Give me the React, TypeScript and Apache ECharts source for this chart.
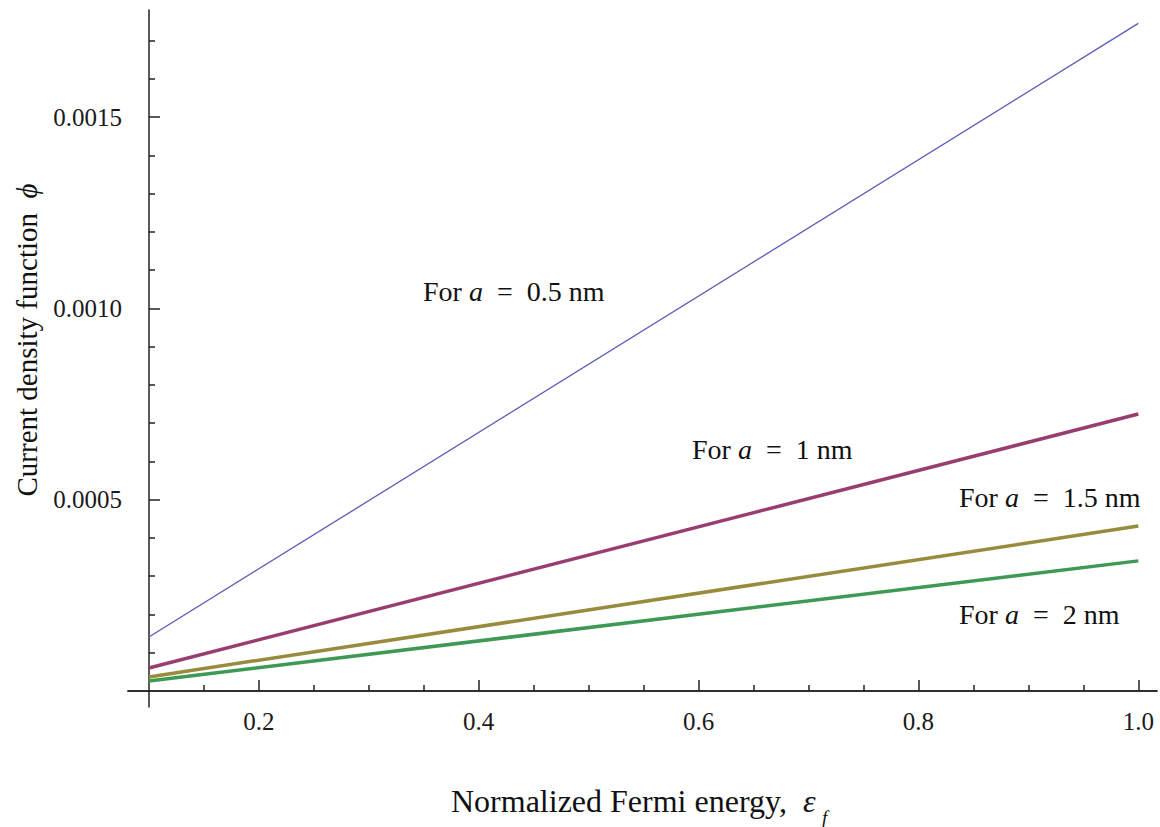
import React, { useEffect, useRef } from "react";
import * as echarts from "echarts";

const EPS = [0.1, 1.0];
const PHI_05 = [0.000141, 0.001745];
const PHI_10 = [0.0000601, 0.000724];
const PHI_15 = [0.0000366, 0.000431];
const PHI_20 = [0.0000261, 0.00034];

const X_TICKS = [0.2, 0.4, 0.6, 0.8, 1.0];
const X_MINOR = [0.15, 0.25, 0.3, 0.35, 0.45, 0.5, 0.55, 0.65, 0.7, 0.75, 0.85, 0.9, 0.95];
const Y_TICKS = [0.0005, 0.001, 0.0015];
const Y_MINOR = [0.0001, 0.0002, 0.0003, 0.0004, 0.0006, 0.0007, 0.0008, 0.0009, 0.0011, 0.0012, 0.0013, 0.0014, 0.0016, 0.0017];

const LABELS = ["0.5", "1", "1.5", "2"];

const XMIN = 0.081;
const XMAX = 1.017;
const YMIN = -0.000042;
const YMAX = 0.00178;

const FONT = "'Liberation Serif', 'Times New Roman', serif";
const AX = "#222";

function pairs(xs: number[], ys: number[]) {
  return xs.map((x, i) => [x, ys[i]]);
}

export default function App() {
  const ref = useRef<HTMLDivElement>(null);
  useEffect(() => {
    if (!ref.current) return;
    const chart = echarts.init(ref.current, undefined, { renderer: "svg" });
    const lineStyle = { color: AX, width: 1.5 };
    const annot = (txt: string, x: number, y: number) => ({
      type: "text",
      x,
      y,
      style: {
        text: `For {i|a}\u2002=\u2002${txt} nm`,
        fontFamily: FONT,
        fontSize: 28,
        fill: "#111",
        textAlign: "left",
        textVerticalAlign: "middle",
        rich: { i: { fontFamily: FONT, fontSize: 28, fontStyle: "italic", fill: "#111" } },
      },
    });
    chart.setOption({
      animation: false,
      backgroundColor: "#fff",
      grid: { left: 128, right: 3, top: 10, bottom: 120 },
      xAxis: [
        {
          type: "value",
          min: XMIN,
          max: XMAX,
          position: "bottom",
          axisLine: { show: true, onZero: true, onZeroAxisIndex: 0, lineStyle },
          axisTick: { show: true, inside: true, length: 11, customValues: X_TICKS, lineStyle },
          axisLabel: {
            customValues: X_TICKS,
            formatter: (v: number) => v.toFixed(1),
            fontFamily: FONT,
            fontSize: 25,
            color: "#1a1a1a",
            margin: 2,
          },
          splitLine: { show: false },
        },
        {
          type: "value",
          min: XMIN,
          max: XMAX,
          position: "bottom",
          axisLine: { show: true, onZero: true, onZeroAxisIndex: 0, lineStyle },
          axisTick: { show: true, inside: true, length: 6, customValues: X_MINOR, lineStyle },
          axisLabel: { show: false },
          splitLine: { show: false },
        },
      ],
      yAxis: [
        {
          type: "value",
          min: YMIN,
          max: YMAX,
          position: "left",
          offset: -21,
          axisLine: { show: true, onZero: false, lineStyle },
          axisTick: { show: true, inside: true, length: 11, customValues: Y_TICKS, lineStyle },
          axisLabel: {
            customValues: Y_TICKS,
            formatter: (v: number) => v.toFixed(4),
            fontFamily: FONT,
            fontSize: 25,
            color: "#1a1a1a",
            margin: 27,
          },
          splitLine: { show: false },
        },
        {
          type: "value",
          min: YMIN,
          max: YMAX,
          position: "left",
          offset: -21,
          axisLine: { show: false, onZero: false },
          axisTick: { show: true, inside: true, length: 6, customValues: Y_MINOR, lineStyle },
          axisLabel: { show: false },
          splitLine: { show: false },
        },
      ],
      series: [
        { name: `a = ${LABELS[0]} nm`, type: "line", data: pairs(EPS, PHI_05), showSymbol: false, lineStyle: { color: "#5b5bb8", width: 1.3 }, itemStyle: { color: "#5b5bb8" } },
        { name: `a = ${LABELS[1]} nm`, type: "line", data: pairs(EPS, PHI_10), showSymbol: false, lineStyle: { color: "#993d71", width: 3.5 }, itemStyle: { color: "#993d71" } },
        { name: `a = ${LABELS[2]} nm`, type: "line", data: pairs(EPS, PHI_15), showSymbol: false, lineStyle: { color: "#998b3d", width: 3.5 }, itemStyle: { color: "#998b3d" } },
        { name: `a = ${LABELS[3]} nm`, type: "line", data: pairs(EPS, PHI_20), showSymbol: false, lineStyle: { color: "#3d9954", width: 3.5 }, itemStyle: { color: "#3d9954" } },
      ],
      graphic: [
        annot(LABELS[0], 423, 291),
        annot(LABELS[1], 692, 449),
        annot(LABELS[2], 959, 497),
        annot(LABELS[3], 959, 614),
        {
          type: "text",
          x: 27,
          y: 340,
          rotation: Math.PI / 2,
          style: {
            text: "Current density function  {i|ϕ}",
            fontFamily: FONT,
            fontSize: 29,
            fill: "#111",
            textAlign: "center",
            textVerticalAlign: "middle",
            rich: { i: { fontFamily: FONT, fontSize: 29, fontStyle: "italic", fill: "#111" } },
          },
        },
        {
          type: "text",
          x: 451,
          y: 801,
          style: {
            text: "Normalized Fermi energy,  {i|ε}",
            fontFamily: FONT,
            fontSize: 32,
            fill: "#111",
            textAlign: "left",
            textVerticalAlign: "middle",
            rich: { i: { fontFamily: FONT, fontSize: 32, fontStyle: "italic", fill: "#111" } },
          },
        },
        {
          type: "text",
          x: 822,
          y: 817,
          style: {
            text: "f",
            fontFamily: FONT,
            fontSize: 19,
            fontStyle: "italic",
            fill: "#111",
            textAlign: "left",
            textVerticalAlign: "middle",
          },
        },
      ],
    });
    return () => chart.dispose();
  }, []);
  return (
    <div
      ref={ref}
      style={{ position: "fixed", left: 0, top: 0, width: 1160, height: 827, background: "#fff" }}
    />
  );
}
